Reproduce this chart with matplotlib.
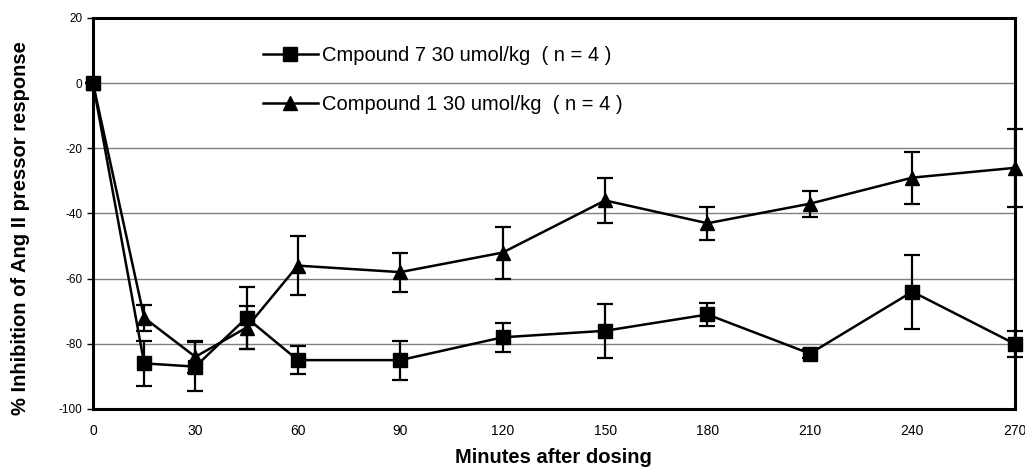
import numpy as np
import matplotlib
matplotlib.use('Agg')
from matplotlib import pyplot as plt

plt.rcParams['font.family'] = ['Liberation Sans', 'DejaVu Sans']
plt.rcParams['axes.unicode_minus'] = False

# Time points (minutes after dosing)
minutes = [0, 15, 30, 45, 60, 90, 120, 150, 180, 210, 240, 270]

# Compound 7 (squares): mean and error
cmp7_mean = [0, -86, -87, -72, -85, -85, -78, -76, -71, -83, -64, -80]
cmp7_err = [0, 7, 7.5, 9.5, 4.3, 6, 4.5, 8.2, 3.4, 1.5, 11.3, 4]

# Compound 1 (triangles): mean and error
cmp1_mean = [0, -72, -84, -75, -56, -58, -52, -36, -43, -37, -29, -26]
cmp1_err = [0, 4, 5, 6.5, 9, 6, 8, 7, 5, 4, 8, 12]

labels = ['Cmpound 7 30 umol/kg  ( n = 4 )', 'Compound 1 30 umol/kg  ( n = 4 )']

xticks = [0, 30, 60, 90, 120, 150, 180, 210, 240, 270]
yticks = [-100, -80, -60, -40, -20, 0, 20]

fig = plt.figure(figsize=(10.25, 4.7), dpi=100)
ax = fig.add_axes([0.0907, 0.1298, 0.8993, 0.832])

lines = []
for mean, err, mk, lab in [(cmp7_mean, cmp7_err, 's', labels[0]),
                           (cmp1_mean, cmp1_err, '^', labels[1])]:
    ax.errorbar(minutes, mean, yerr=err, fmt='none', ecolor='black',
                elinewidth=1.6, capsize=6, capthick=1.6, zorder=3, clip_on=False)
    ln, = ax.plot(minutes, mean, color='black', marker=mk, markersize=10,
                  linewidth=1.8, label=lab, zorder=4, clip_on=False)
    lines.append(ln)

ax.set_xlim(0, 270)
ax.set_ylim(-100, 20)
ax.set_xticks(xticks)
ax.set_yticks(yticks)
ax.yaxis.grid(True, color='#808080', linewidth=1.0)
ax.set_axisbelow(True)
ax.tick_params(axis='y', labelsize=8.5, width=1, length=4)
ax.tick_params(axis='x', labelsize=10, length=0, pad=11)
for s in ax.spines.values():
    s.set_linewidth(2.2)

ax.set_xlabel('Minutes after dosing', fontsize=14.5, fontweight='bold', labelpad=7)
ax.set_ylabel('% Inhibition of Ang II pressor response', fontsize=14.5,
              fontweight='bold')
ax.yaxis.set_label_coords(-0.068, 0.463)

ax.legend(handles=lines, loc='upper left', bbox_to_anchor=(0.165, 0.975),
          frameon=False, fontsize=14.5, labelspacing=1.5, handlelength=2.7,
          handletextpad=0.2)

plt.savefig('out.png', dpi=100)
